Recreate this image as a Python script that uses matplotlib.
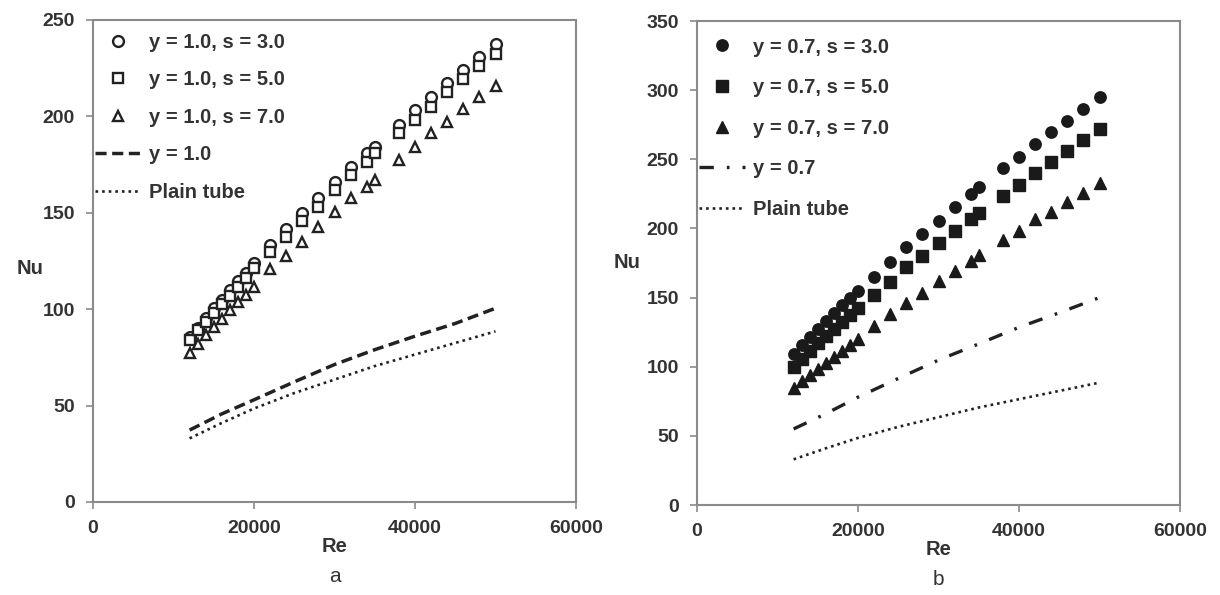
import matplotlib
matplotlib.use("Agg")
import matplotlib.pyplot as plt

# ---------------- data ----------------
re_pts = [12000, 13000, 14000, 15000, 16000, 17000, 18000, 19000, 20000,
          22000, 24000, 26000, 28000, 30000, 32000, 34000, 35000, 38000,
          40000, 42000, 44000, 46000, 48000, 50000]

# panel a (y = 1.0)
nu_a_s3 = [85.5, 90.5, 95.5, 100.5, 105, 110, 114.5, 119, 123.8,
           133.3, 141.4, 150, 157.7, 166.1, 173.9, 180.8, 184.3, 195.5,
           203.3, 209.9, 217.1, 224.1, 231, 237.5]
nu_a_s5 = [84, 89, 93.5, 98, 102.5, 107, 111.5, 116, 121.2,
           129.8, 137.6, 145.9, 153, 161.8, 169.6, 176.5, 180.8, 191.2,
           198.1, 205, 212.8, 219.2, 226.1, 232.2]
nu_a_s7 = [77.5, 82, 86.5, 91, 95, 99.5, 103.5, 107.5, 111.7,
           120.7, 127.6, 135, 142.8, 150.6, 157.5, 163.5, 167, 177.4,
           184.3, 191.2, 197.3, 203.7, 209.9, 216]

# panel b (y = 0.7)
nu_b_s3 = [109, 115.5, 121.5, 127.5, 133, 139, 144.5, 150, 155,
           165.1, 175.5, 186.3, 196, 205.2, 215.3, 224.9, 229.7, 243.4,
           251.4, 261, 269.9, 277.9, 286.1, 295.2]
nu_b_s5 = [99.5, 105.5, 111.5, 117, 122.5, 127.5, 132.5, 137.5, 142.2,
           151.8, 161.5, 171.9, 180, 189.7, 198.2, 206.6, 210.9, 223.4,
           231.4, 240.3, 248.2, 256.2, 263.9, 271.6]
nu_b_s7 = [84.4, 89.5, 94, 98.5, 103, 107, 111.5, 115.5, 119.8,
           129.4, 138.1, 146.3, 153, 162, 169, 176.6, 180.8, 191.6,
           198.3, 206.6, 212.1, 219.3, 225.4, 232.6]

# correlation / reference lines
re_line = [12000, 16000, 20000, 25000, 30000, 35000, 40000, 45000, 50000]
nu_twisted_10 = [37.3, 45.7, 53, 62.3, 71.3, 79, 86, 92.6, 100.5]
nu_twisted_07 = [55, 66, 78, 91.5, 104.8, 116.5, 128.5, 139, 150]
nu_plain = [33, 41, 48.5, 56.5, 63.5, 70.5, 76.5, 82.5, 88.5]

labels_a = ["y = 1.0, s = 3.0", "y = 1.0, s = 5.0", "y = 1.0, s = 7.0",
            "y = 1.0", "Plain tube"]
labels_b = ["y = 0.7, s = 3.0", "y = 0.7, s = 5.0", "y = 0.7, s = 7.0",
            "y = 0.7", "Plain tube"]
xticks = [0, 20000, 40000, 60000]
yticks_a = [0, 50, 100, 150, 200, 250]
yticks_b = [0, 50, 100, 150, 200, 250, 300, 350]

# ---------------- style ----------------
plt.rcParams['font.family'] = ['Liberation Sans', 'DejaVu Sans']
plt.rcParams['font.weight'] = 'bold'
FS = 14
TXT = '#333333'
SPINE = '#8a8a8a'

fig = plt.figure(figsize=(12.2, 5.95), dpi=100)
W, H = 1220, 595
ax1 = fig.add_axes([93 / W, 1 - 502 / H, (576 - 93) / W, (502 - 20) / H])
ax2 = fig.add_axes([697 / W, 1 - 505 / H, (1180 - 697) / W, (505 - 21) / H])

ms = 7.8
mk = dict(linestyle='none', markersize=ms, markeredgewidth=1.7)

# panel a
ax1.plot(re_pts, nu_a_s3, marker='o', mfc='white', mec='#222222', label=labels_a[0], **mk)
ax1.plot(re_pts, nu_a_s5, marker='s', mfc='white', mec='#222222', label=labels_a[1], **mk)
ax1.plot(re_pts, nu_a_s7, marker='^', mfc='white', mec='#222222', label=labels_a[2], **mk)
ax1.plot(re_line, nu_twisted_10, color='#222222', lw=2.5, dashes=(3.2, 1.6), label=labels_a[3])
ax1.plot(re_line, nu_plain, color='#222222', lw=1.9, dashes=(1.0, 1.5), label=labels_a[4])

# panel b
mkb = dict(linestyle='none', markersize=ms + 0.4, markeredgewidth=1.0)
ax2.plot(re_pts, nu_b_s3, marker='o', color='#1a1a1a', label=labels_b[0], **mkb)
ax2.plot(re_pts, nu_b_s5, marker='s', color='#1a1a1a', label=labels_b[1], **mkb)
ax2.plot(re_pts, nu_b_s7, marker='^', color='#1a1a1a', label=labels_b[2], **mkb)
ax2.plot(re_line, nu_twisted_07, color='#222222', lw=2.4, dashes=(4.3, 3.9, 0.8, 3.9), label=labels_b[3])
ax2.plot(re_line, nu_plain, color='#222222', lw=1.9, dashes=(1.0, 1.5), label=labels_b[4])

for ax, yt, ytop, sub, anc, lsp in [(ax1, yticks_a, 250, 'a', 0.978, 0.92),
                                     (ax2, yticks_b, 350, 'b', 0.970, 1.07)]:
    ax.set_xlim(0, 60000)
    ax.set_ylim(0, ytop)
    ax.set_xticks(xticks)
    ax.set_yticks(yt)
    ax.set_xticklabels([str(v) for v in xticks])
    ax.set_yticklabels([str(v) for v in yt])
    for s in ax.spines.values():
        s.set_color(SPINE)
        s.set_linewidth(1.5)
    ax.tick_params(direction='out', length=5, width=1.2, color=SPINE,
                   labelsize=FS, labelcolor=TXT, pad=8)
    ax.set_xlabel('Re', fontsize=FS + 0.5, color=TXT, labelpad=0, fontweight='bold')
    ax.set_ylabel('Nu', fontsize=FS + 0.5, color=TXT, rotation=0, va='center',
                  fontweight='bold')
    ax.text(0.5, -0.135, sub, transform=ax.transAxes, ha='center', va='top',
            fontsize=FS + 1, color=TXT, fontweight='normal')
    leg = ax.legend(loc='upper left', bbox_to_anchor=(0.0, anc), frameon=False,
                    prop=dict(size=FS + 0.5, weight='bold'),
                    handlelength=2.3, handletextpad=0.4,
                    labelspacing=lsp, borderpad=0.1, borderaxespad=0.0)
    for t in leg.get_texts():
        t.set_color(TXT)

ax1.yaxis.set_label_coords(-0.13, 0.485)
ax2.yaxis.set_label_coords(-0.145, 0.5)

fig.savefig('out.png', dpi=100, facecolor='white')
